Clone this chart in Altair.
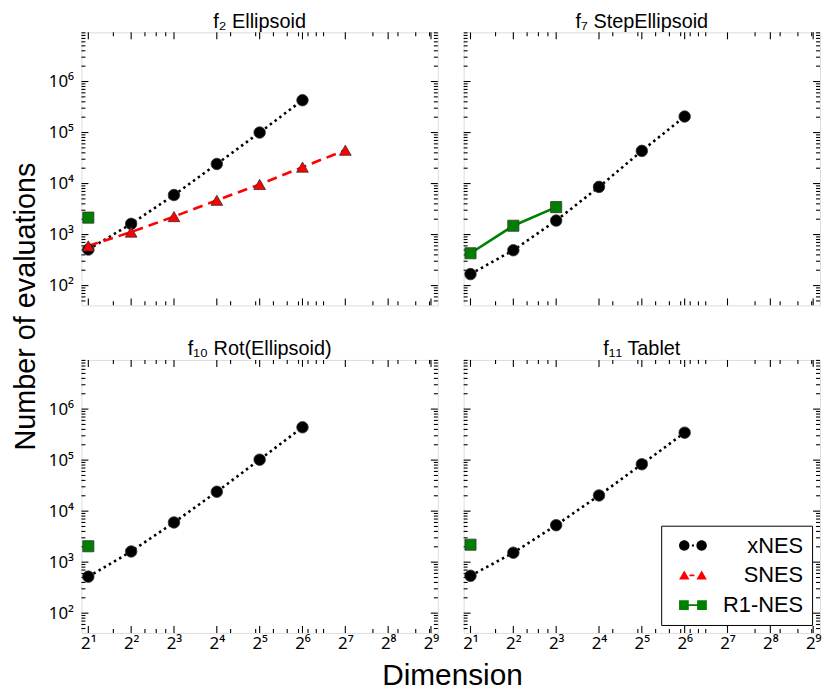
import altair as alt
import pandas as pd

# ---------------- data ----------------
SERIES = ["xNES", "SNES", "R1-NES"]
COLORS = ["#000000", "#ff0000", "#008000"]

FUNCS = ["f2", "f7", "f10", "f11"]
TITLES = ["f\u2082 Ellipsoid", "f\u2087 StepEllipsoid", "f\u2081\u2080 Rot(Ellipsoid)", "f\u2081\u2081 Tablet"]

DIMS = [2, 4, 8, 16, 32, 64]
SNES_DIMS = [2, 4, 8, 16, 32, 64, 128]
R1_DIMS_F7 = [2, 4, 8]
R1_DIMS = [2]

F2_XNES = [510, 1620, 5960, 24200, 100000, 430000]
F2_SNES = [600, 1120, 2250, 4700, 9600, 21000, 45000]
F2_R1 = [2150]

F7_XNES = [168, 493, 1880, 8600, 43700, 206000]
F7_R1 = [430, 1490, 3450]

F10_XNES = [520, 1620, 6000, 24000, 102000, 440000]
F10_R1 = [2050]

F11_XNES = [540, 1530, 5300, 20300, 83000, 345000]
F11_R1 = [2200]

X_MAJOR = [2, 4, 8, 16, 32, 64, 128, 256, 512]
X_MINOR = [3, 5, 6, 7, 20, 30, 40, 50, 60, 70, 80, 90, 200, 300, 400, 500]
Y_MAJOR = [1e2, 1e3, 1e4, 1e5, 1e6]
Y_MINOR = [50, 60, 70, 80, 90,
           200, 300, 400, 500, 600, 700, 800, 900,
           2e3, 3e3, 4e3, 5e3, 6e3, 7e3, 8e3, 9e3,
           2e4, 3e4, 4e4, 5e4, 6e4, 7e4, 8e4, 9e4,
           2e5, 3e5, 4e5, 5e5, 6e5, 7e5, 8e5, 9e5,
           2e6, 3e6, 4e6, 5e6, 6e6, 7e6, 8e6, 9e6]

rows = []
def add(func, series, dims, vals):
    for d, v in zip(dims, vals):
        rows.append({"func": func, "series": series, "dim": d, "evals": v})

add("f2", "xNES", DIMS, F2_XNES)
add("f2", "SNES", SNES_DIMS, F2_SNES)
add("f2", "R1-NES", R1_DIMS, F2_R1)
add("f7", "xNES", DIMS, F7_XNES)
add("f7", "R1-NES", R1_DIMS_F7, F7_R1)
add("f10", "xNES", DIMS, F10_XNES)
add("f10", "R1-NES", R1_DIMS, F10_R1)
add("f11", "xNES", DIMS, F11_XNES)
add("f11", "R1-NES", R1_DIMS, F11_R1)
df = pd.DataFrame(rows)

# ---------------- style ----------------
W, H = 359, 275
XDOM = [1.79, 572]
YDOM = [41, 9.2e6]
MAJ_LEN, MIN_LEN = 7, 4
FONT = "Liberation Sans"
TICKFONT = "Noto Sans"

STYLE = {
    "xNES": dict(color="#000000", dash=[2.5, 3.5], shape="circle", size=135),
    "SNES": dict(color="#ff0000", dash=[10, 6], shape="triangle-up", size=140),
    "R1-NES": dict(color="#008000", dash=None, shape="square", size=125),
}

LEG_PATHS = [
    "M-2,0A0.75,0.75,0,1,0,-0.5,0A0.75,0.75,0,1,0,-2,0Z"
    "M0.5,0A0.75,0.75,0,1,0,2,0A0.75,0.75,0,1,0,0.5,0Z"
    "M-0.15,-0.15H0.15V0.15H-0.15Z",
    "M-2,0.6L-1.25,-0.7L-0.5,0.6Z"
    "M0.5,0.6L1.25,-0.7L2,0.6Z"
    "M-0.5,-0.12H0.2V0.12H-0.5Z",
    "M-2,-0.7H-0.6V0.7H-2Z"
    "M0.6,-0.7H2V0.7H0.6Z"
    "M-0.6,-0.12H0.6V0.12H-0.6Z",
]

XLAB = ("'2' + substring('\u2070\u00b9\u00b2\u00b3\u2074\u2075\u2076\u2077\u2078\u2079', "
        "round(log(datum.value)/LN2), round(log(datum.value)/LN2)+1)")
YLAB = ("'10' + substring('\u2070\u00b9\u00b2\u00b3\u2074\u2075\u2076\u2077\u2078\u2079', "
        "round(log(datum.value)/LN10), round(log(datum.value)/LN10)+1)")

xmaj_df = pd.DataFrame({"v": X_MAJOR})
xmin_df = pd.DataFrame({"v": X_MINOR})
ymaj_df = pd.DataFrame({"v": Y_MAJOR})
ymin_df = pd.DataFrame({"v": Y_MINOR})


def panel(i, show_x, show_y, with_legend):
    func = FUNCS[i]
    d = df[df["func"] == func]
    xs = alt.Scale(type="log", base=2, domain=XDOM, nice=False)
    ys = alt.Scale(type="log", base=10, domain=YDOM, nice=False)
    xax = (alt.Axis(values=X_MAJOR, labelExpr=XLAB, title=None, ticks=False, domain=False,
                    grid=False, labelFlush=False, labelOverlap=False, labelFontSize=17,
                    labelFont=TICKFONT, labelColor="black", labelPadding=3)
           if show_x else None)
    yax = (alt.Axis(values=Y_MAJOR, labelExpr=YLAB, title=None, ticks=False, domain=False,
                    grid=False, labelFlush=False, labelOverlap=False, labelFontSize=17,
                    labelFont=TICKFONT, labelColor="black", labelPadding=8)
           if show_y else None)

    def X(f):
        return alt.X(f, type="quantitative", scale=xs, axis=xax)

    def Y(f):
        return alt.Y(f, type="quantitative", scale=ys, axis=yax)

    layers = []
    # inward ticks on all four sides
    for tdf, ln in ((xmaj_df, MAJ_LEN), (xmin_df, MIN_LEN)):
        base = alt.Chart(tdf).mark_rule(color="black", strokeWidth=1.1)
        layers.append(base.encode(x=X("v"), y=alt.value(H), y2=alt.value(H - ln)))
        layers.append(base.encode(x=X("v"), y=alt.value(0), y2=alt.value(ln)))
    for tdf, ln in ((ymaj_df, MAJ_LEN), (ymin_df, MIN_LEN)):
        base = alt.Chart(tdf).mark_rule(color="black", strokeWidth=1.1)
        layers.append(base.encode(y=Y("v"), x=alt.value(0), x2=alt.value(ln)))
        layers.append(base.encode(y=Y("v"), x=alt.value(W), x2=alt.value(W - ln)))

    present = [s for s in SERIES if (d["series"] == s).any()]
    for s in present:
        st = STYLE[s]
        kw = dict(color=st["color"], strokeWidth=2.6, clip=True)
        if st["dash"]:
            kw["strokeDash"] = st["dash"]
        layers.append(alt.Chart(d[d["series"] == s]).mark_line(**kw).encode(
            x=X("dim"), y=Y("evals")))
    for s in present:
        st = STYLE[s]
        layers.append(alt.Chart(d[d["series"] == s]).mark_point(
            filled=True, fill=st["color"], stroke="#333333", strokeWidth=0.8,
            shape=st["shape"], size=st["size"], opacity=1, clip=True).encode(
            x=X("dim"), y=Y("evals")))

    if with_legend:
        leg = alt.Legend(title=None, orient="bottom-right", offset=8, padding=9,
                         strokeColor="black", fillColor="white",
                         labelFontSize=22, labelFont=FONT, labelColor="black",
                         labelAlign="right", labelOffset=100, labelLimit=200,
                         symbolOffset=12,
                         symbolSize=196, symbolOpacity=1, symbolStrokeWidth=0.6,
                         symbolStrokeColor="#222222", rowPadding=8)
        layers.append(alt.Chart(d).mark_point(filled=True, opacity=0).encode(
            x=X("dim"), y=Y("evals"),
            color=alt.Color("series:N", scale=alt.Scale(domain=SERIES, range=COLORS), legend=leg),
            shape=alt.Shape("series:N", scale=alt.Scale(domain=SERIES, range=LEG_PATHS), legend=leg),
        ))

    return alt.layer(*layers).properties(
        width=W, height=H,
        title=alt.TitleParams(TITLES[i], fontSize=20, font=FONT, fontWeight="normal",
                              color="black", offset=0),
    )


row1 = alt.hconcat(panel(0, False, True, False), panel(1, False, False, False), spacing=22)
row2 = alt.hconcat(panel(2, True, True, False), panel(3, True, False, True), spacing=22).resolve_scale(
    color="independent", shape="independent").resolve_legend(color="independent", shape="independent")

grid = alt.vconcat(row1, row2, spacing=31,
                   title=alt.TitleParams("Dimension", orient="bottom", anchor="middle", fontSize=30,
                                         font=FONT, fontWeight="normal", color="black", offset=9,
                                         dx=18))
chart = alt.hconcat(grid, title=alt.TitleParams("Number of evaluations", orient="left", anchor="middle",
                                                 fontSize=29, font=FONT, fontWeight="normal",
                                                 color="black", offset=7, dx=45)).configure_view(
    stroke="black", strokeWidth=2).configure_legend(strokeWidth=1.5).configure(
    padding={"left": 4, "top": 0, "right": 0, "bottom": 0})

chart.save("out.html", embed_options={"renderer": "svg", "actions": False})
